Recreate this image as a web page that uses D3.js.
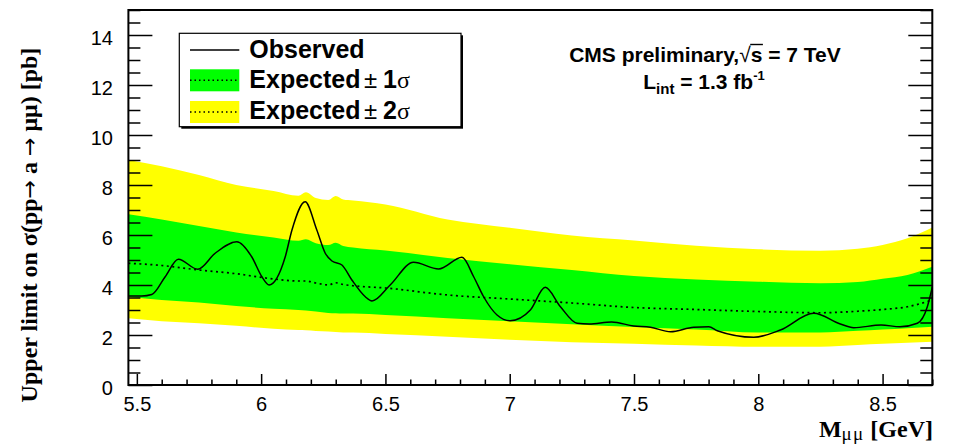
<!DOCTYPE html>
<html><head><meta charset="utf-8">
<script src="https://cdn.jsdelivr.net/npm/d3@7"></script>
<style>body{margin:0;background:#fff}</style>
</head><body><svg id="c" width="957" height="445"></svg>
<script>
// ---- data ----
const massGrid = [5.466, 5.6, 5.75, 5.9, 6.05, 6.15, 6.18, 6.22, 6.27, 6.3, 6.33, 6.37, 6.5, 6.75, 7.0, 7.25, 7.5, 7.75, 8.0, 8.25, 8.4, 8.5, 8.6, 8.7];
const expected = [4.87, 4.78, 4.6, 4.45, 4.24, 4.16, 4.16, 4.08, 4.0, 4.09, 4.02, 3.97, 3.88, 3.6, 3.44, 3.28, 3.1, 3.02, 2.94, 2.89, 2.95, 3.02, 3.13, 3.4];
const band1Lo = [3.53, 3.4, 3.3, 3.16, 3.05, 3.0, 2.98, 2.94, 2.88, 2.87, 2.86, 2.86, 2.8, 2.67, 2.55, 2.43, 2.32, 2.22, 2.1, 2.1, 2.17, 2.22, 2.27, 2.33];
const band1Hi = [6.83, 6.62, 6.36, 6.1, 5.9, 5.77, 5.83, 5.67, 5.6, 5.69, 5.56, 5.5, 5.38, 5.08, 4.83, 4.6, 4.36, 4.22, 4.13, 4.07, 4.12, 4.25, 4.4, 4.73];
const band2Lo = [2.67, 2.55, 2.47, 2.37, 2.25, 2.2, 2.19, 2.16, 2.14, 2.12, 2.1, 2.1, 2.04, 1.93, 1.81, 1.71, 1.65, 1.58, 1.53, 1.53, 1.6, 1.65, 1.69, 1.73];
const band2Hi = [9.0, 8.75, 8.4, 8.0, 7.76, 7.57, 7.71, 7.48, 7.4, 7.56, 7.42, 7.38, 7.22, 6.62, 6.29, 5.98, 5.78, 5.57, 5.43, 5.37, 5.45, 5.6, 5.87, 6.3];
const obsMass = [5.466, 5.52, 5.56, 5.614, 5.667, 5.745, 5.815, 5.902, 5.962, 6.003, 6.032, 6.097, 6.124, 6.177, 6.224, 6.258, 6.285, 6.325, 6.365, 6.419, 6.446, 6.519, 6.613, 6.714, 6.808, 6.855, 6.895, 6.949, 7.002, 7.083, 7.143, 7.204, 7.271, 7.32, 7.41, 7.499, 7.566, 7.647, 7.74, 7.801, 7.835, 7.982, 8.089, 8.223, 8.33, 8.384, 8.494, 8.57, 8.64, 8.68, 8.70];
const observed = [3.56, 3.56, 3.62, 4.33, 5.03, 4.63, 5.27, 5.73, 5.13, 4.33, 4.0, 5.13, 6.2, 7.33, 6.2, 5.27, 4.96, 4.8, 4.2, 3.53, 3.36, 4.0, 4.91, 4.64, 5.11, 4.33, 3.53, 2.8, 2.57, 3.0, 3.91, 3.13, 2.47, 2.44, 2.52, 2.36, 2.31, 2.13, 2.31, 2.33, 2.17, 1.91, 2.2, 2.87, 2.44, 2.29, 2.4, 2.33, 2.47, 3.13, 3.91];
const xTicks = [5.5, 6, 6.5, 7, 7.5, 8, 8.5];
const xTickLabels = ["5.5", "6", "6.5", "7", "7.5", "8", "8.5"];
const yTicks = [0, 2, 4, 6, 8, 10, 12, 14];
const yTickLabels = ["0", "2", "4", "6", "8", "10", "12", "14"];
const legendLabels = ["Observed", "Expected", "Expected"];
const legendSigma = ["", "1", "2"];

// ---- layout ----
const L = 128.4, R = 932.3, T = 10, B = 385;
const svg = d3.select('#c');
svg.append('rect').attr('width', 957).attr('height', 445).attr('fill', '#fff');
const x = d3.scaleLinear().domain([5.466, 8.70]).range([L, R]);
const y = d3.scaleLinear().domain([0, 15]).range([B, T]);

svg.append('clipPath').attr('id', 'clip').append('rect')
  .attr('x', L).attr('y', T).attr('width', R - L).attr('height', B - T);
const plot = svg.append('g').attr('clip-path', 'url(#clip)');

const idx = d3.range(massGrid.length);
const area = (lo, hi) => d3.area().x(i => x(massGrid[i])).y0(i => y(lo[i])).y1(i => y(hi[i])).curve(d3.curveMonotoneX);
plot.append('path').datum(idx).attr('d', area(band2Lo, band2Hi)).attr('fill', '#ffff00');
plot.append('path').datum(idx).attr('d', area(band1Lo, band1Hi)).attr('fill', '#00ff00');
plot.append('path').datum(idx)
  .attr('d', d3.line().x(i => x(massGrid[i])).y(i => y(expected[i])).curve(d3.curveMonotoneX))
  .attr('fill', 'none').attr('stroke', '#000').attr('stroke-width', 1.7).attr('stroke-dasharray', '2,3.5');
plot.append('path').datum(d3.range(obsMass.length))
  .attr('d', d3.line().x(i => x(obsMass[i])).y(i => y(observed[i])).curve(d3.curveMonotoneX))
  .attr('fill', 'none').attr('stroke', '#000').attr('stroke-width', 1.5);

// ---- axes ----
const tickFont = 'Liberation Sans, Arial, Helvetica, sans-serif';
function styleAxis(g) {
  g.select('.domain').remove();
  g.selectAll('line').attr('stroke', '#000').attr('stroke-width', 1.5);
  g.selectAll('text').attr('font-family', tickFont).attr('font-size', 20).attr('fill', '#000');
}
const xMinor = d3.range(55, 88).map(v => v / 10).filter(v => v >= 5.466 && v <= 8.7 && Math.abs(v * 2 - Math.round(v * 2)) > 1e-6);
svg.append('g').attr('transform', `translate(0,${B})`)
  .call(d3.axisBottom(x).tickValues(xTicks).tickSize(-11).tickPadding(12).tickFormat((d, i) => xTickLabels[i]))
  .call(styleAxis);
svg.append('g').attr('transform', `translate(0,${B})`)
  .call(d3.axisBottom(x).tickValues(xMinor).tickSize(-5.5).tickFormat(''))
  .call(styleAxis);
const yMinor = d3.range(0, 31).map(v => v / 2).filter(v => v % 2 !== 0);
const yl = svg.append('g').attr('transform', `translate(${L},0)`)
  .call(d3.axisLeft(y).tickValues(yTicks).tickSize(-24).tickPadding(15.5).tickFormat((d, i) => yTickLabels[i]))
  .call(styleAxis);
yl.selectAll('text').attr('dy', '0.47em');
svg.append('g').attr('transform', `translate(${L},0)`)
  .call(d3.axisLeft(y).tickValues(yMinor).tickSize(-12).tickFormat(''))
  .call(styleAxis);
svg.append('g').attr('transform', `translate(${R},0)`)
  .call(d3.axisRight(y).tickValues(yTicks).tickSize(-24).tickFormat(''))
  .call(styleAxis);
svg.append('g').attr('transform', `translate(${R},0)`)
  .call(d3.axisRight(y).tickValues(yMinor).tickSize(-12).tickFormat(''))
  .call(styleAxis);

svg.append('rect').attr('x', L).attr('y', T).attr('width', R - L).attr('height', B - T)
  .attr('fill', 'none').attr('stroke', '#000').attr('stroke-width', 2);

// ---- axis titles ----
const serif = 'Liberation Serif, Times New Roman, serif';
const xt = svg.append('text').attr('x', 933).attr('y', 437).attr('text-anchor', 'end')
  .attr('font-family', serif).attr('font-weight', 'bold').attr('font-size', 24).attr('fill', '#000');
xt.append('tspan').text('M');
xt.append('tspan').attr('dy', 3).attr('font-size', 19).attr('font-weight', 'normal').attr('letter-spacing', 1.2).text('μμ');
xt.append('tspan').attr('dy', -3).text(' [GeV]');

const yt = svg.append('text').attr('transform', 'translate(37,225) rotate(-90)').attr('text-anchor', 'middle')
  .attr('font-family', serif).attr('font-weight', 'bold').attr('font-size', 24).attr('fill', '#000');
const arrowFont = 'DejaVu Sans, sans-serif';
yt.append('tspan').text('Upper limit on σ(pp');
yt.append('tspan').attr('font-family', arrowFont).attr('font-weight', 'normal').attr('font-size', 22).text('→');
yt.append('tspan').text(' a ');
yt.append('tspan').attr('font-family', arrowFont).attr('font-weight', 'normal').attr('font-size', 22).text('→');
yt.append('tspan').text(' μμ) [pb]');

// ---- legend ----
const lg = svg.append('g');
lg.append('rect').attr('x', 181.3).attr('y', 35.3).attr('width', 281.7).attr('height', 93.4).attr('fill', '#000');
lg.append('rect').attr('x', 179.3).attr('y', 33.3).attr('width', 281.7).attr('height', 93.4)
  .attr('fill', '#fff').attr('stroke', '#000').attr('stroke-width', 1.2);
const rows = [58, 88, 119];
lg.append('line').attr('x1', 190).attr('x2', 239.3).attr('y1', 50).attr('y2', 50).attr('stroke', '#000').attr('stroke-width', 1.5);
[['#00ff00', 69.3], ['#ffff00', 101]].forEach(([c, yy]) => {
  lg.append('rect').attr('x', 190).attr('y', yy).attr('width', 49.3).attr('height', 22).attr('fill', c);
  lg.append('line').attr('x1', 190).attr('x2', 239.3).attr('y1', yy + 11).attr('y2', yy + 11)
    .attr('stroke', '#000').attr('stroke-width', 1.5).attr('stroke-dasharray', '1.5,3');
});
legendLabels.forEach((lab, i) => {
  const t = lg.append('text').attr('x', 249.3).attr('y', rows[i])
    .attr('font-family', tickFont).attr('font-weight', 'bold').attr('font-size', 25).attr('fill', '#000');
  t.append('tspan').text(lab);
  if (legendSigma[i]) {
    t.append('tspan').attr('x', 364).attr('font-weight', 'normal').attr('font-size', 24).text('±');
    t.append('tspan').attr('x', 383).text(legendSigma[i]);
    t.append('tspan').attr('font-weight', 'normal').attr('font-size', 24).attr('font-family', serif).text('σ');
  }
});

// ---- annotation ----
const t1 = svg.append('text').attr('x', 705).attr('y', 62).attr('text-anchor', 'middle')
  .attr('font-family', tickFont).attr('font-weight', 'bold').attr('font-size', 21).attr('fill', '#000');
t1.append('tspan').text('CMS preliminary,');
t1.append('tspan').attr('font-weight', 'normal').text('√');
t1.append('tspan').text('s = 7 TeV');
const n1 = t1.node();
const eR = n1.getExtentOfChar(16), eS = n1.getExtentOfChar(17);
svg.append('line').attr('x1', eR.x + eR.width - 0.5).attr('x2', eS.x + eS.width + 0.5)
  .attr('y1', 62 - 17.5).attr('y2', 62 - 17.5).attr('stroke', '#000').attr('stroke-width', 1.4);
const t2 = svg.append('text').attr('x', 704).attr('y', 89).attr('text-anchor', 'middle')
  .attr('font-family', tickFont).attr('font-weight', 'bold').attr('font-size', 21).attr('fill', '#000');
t2.append('tspan').text('L');
t2.append('tspan').attr('dy', 5).attr('font-size', 15).text('int');
t2.append('tspan').attr('dy', -5).text(' = 1.3 fb');
t2.append('tspan').attr('dy', -9).attr('font-size', 13).text('-1');
</script></body></html>
